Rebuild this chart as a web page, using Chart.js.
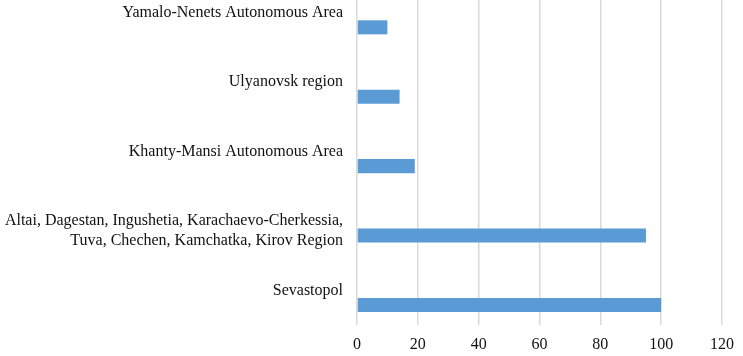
<!DOCTYPE html>
<html>
<head>
<meta charset="utf-8">
<script src="https://cdn.jsdelivr.net/npm/chart.js@4/dist/chart.umd.min.js"></script>
<style>
  html, body { margin: 0; padding: 0; background: #fff; }
  #frame { position: relative; width: 743px; height: 356px; overflow: hidden; }
  #wrap { position: absolute; left: 0; top: -22px; width: 743px; height: 378px; }
</style>
</head>
<body>
<div id="frame"><div id="wrap"><canvas id="c"></canvas></div></div>
<script>
const categories = [
  "Yamalo-Nenets Autonomous Area",
  "Ulyanovsk region",
  "Khanty-Mansi Autonomous Area",
  ["", "Altai, Dagestan, Ingushetia, Karachaevo-Cherkessia,", "Tuva, Chechen, Kamchatka, Kirov Region"],
  "Sevastopol"
];
const values = [10, 14, 19, 95, 100];
const emptySeries = [null, null, null, null, null];
const xTicks = { min: 0, max: 120, step: 20 };

new Chart(document.getElementById('c'), {
  type: 'bar',
  data: {
    labels: categories,
    datasets: [
      { label: '', data: emptySeries, backgroundColor: 'rgba(0,0,0,0)' },
      { label: 'Value', data: values, backgroundColor: '#5B9BD5', borderWidth: 0 }
    ]
  },
  options: {
    indexAxis: 'y',
    responsive: true,
    maintainAspectRatio: false,
    animation: false,
    categoryPercentage: 0.843,
    barPercentage: 0.48,
    layout: { padding: { left: 0, right: 21, top: 0, bottom: 0 } },
    plugins: { legend: { display: false }, tooltip: { enabled: false } },
    scales: {
      x: {
        min: xTicks.min, max: xTicks.max,
        ticks: { stepSize: xTicks.step, color: '#111', padding: 10,
                 font: { family: 'Liberation Serif', size: 16 } },
        grid: { color: '#d9d9d9', lineWidth: 1.5, drawTicks: false },
        border: { display: false },
        afterFit: (s) => { s.height = 31; s.paddingLeft = 0; s.paddingRight = 0; }
      },
      y: {
        ticks: { color: '#111', padding: 14,
                 font: { family: 'Liberation Serif', size: 16, lineHeight: 1.22 } },
        grid: { display: false, drawTicks: false },
        border: { display: false },
        afterFit: (s) => { s.width = 357; s.paddingTop = 0; s.paddingBottom = 0; }
      }
    }
  }
});
</script>
</body>
</html>
